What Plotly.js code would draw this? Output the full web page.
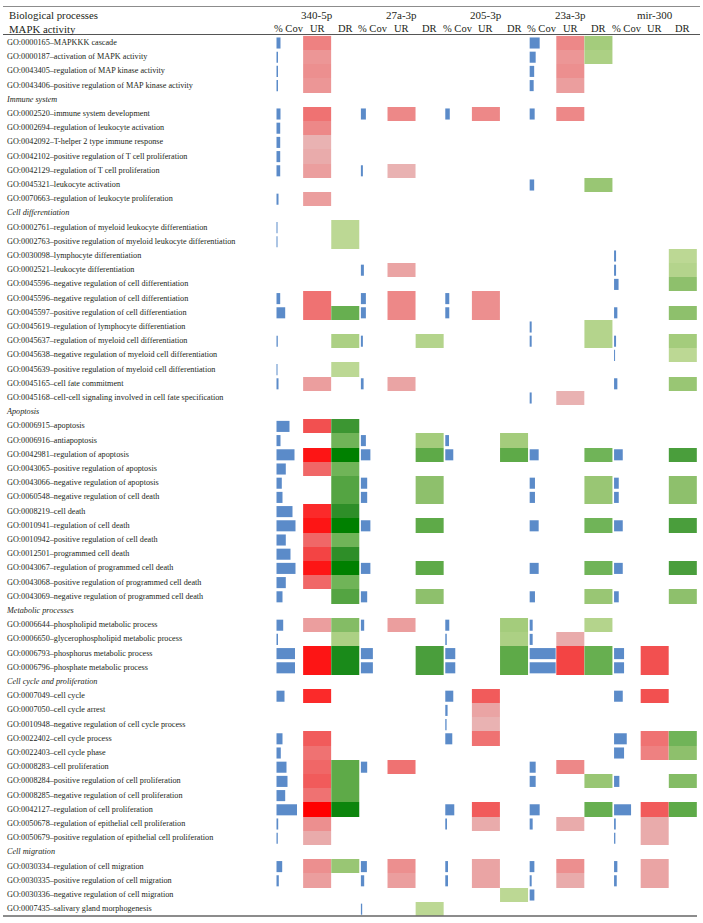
<!DOCTYPE html>
<html>
<head>
<meta charset="utf-8">
<script src="https://cdn.plot.ly/plotly-3.0.1.min.js"></script>
<style>html,body{margin:0;padding:0;background:#fff;}#chart{width:703px;height:923px;}</style>
</head>
<body>
<div id="chart"></div>
<script>
// ---------------- DATA ----------------
const mirnas = ["340-5p", "27a-3p", "205-3p", "23a-3p", "mir-300"];
const subColumns = ["% Cov", "UR", "DR"];
const titleLeft = "Biological processes";
const sectionNames = ["MAPK activity", "Immune system", "Cell differentiation", "Apoptosis",
  "Metabolic processes", "Cell cycle and proliferation", "Cell migration"];
const sectionSizes = [4, 7, 13, 13, 4, 11, 4];
const goTerms = [
  "GO:0000165–MAPKKK cascade",
  "GO:0000187–activation of MAPK activity",
  "GO:0043405–regulation of MAP kinase activity",
  "GO:0043406–positive regulation of MAP kinase activity",
  "GO:0002520–immune system development",
  "GO:0002694–regulation of leukocyte activation",
  "GO:0042092–T-helper 2 type immune response",
  "GO:0042102–positive regulation of T cell proliferation",
  "GO:0042129–regulation of T cell proliferation",
  "GO:0045321–leukocyte activation",
  "GO:0070663–regulation of leukocyte proliferation",
  "GO:0002761–regulation of myeloid leukocyte differentiation",
  "GO:0002763–positive regulation of myeloid leukocyte differentiation",
  "GO:0030098–lymphocyte differentiation",
  "GO:0002521–leukocyte differentiation",
  "GO:0045596–negative regulation of cell differentiation",
  "GO:0045596–negative regulation of cell differentiation",
  "GO:0045597–positive regulation of cell differentiation",
  "GO:0045619–regulation of lymphocyte differentiation",
  "GO:0045637–regulation of myeloid cell differentiation",
  "GO:0045638–negative regulation of myeloid cell differentiation",
  "GO:0045639–positive regulation of myeloid cell differentiation",
  "GO:0045165–cell fate commitment",
  "GO:0045168–cell-cell signaling involved in cell fate specification",
  "GO:0006915–apoptosis",
  "GO:0006916–antiapoptosis",
  "GO:0042981–regulation of apoptosis",
  "GO:0043065–positive regulation of apoptosis",
  "GO:0043066–negative regulation of apoptosis",
  "GO:0060548–negative regulation of cell death",
  "GO:0008219–cell death",
  "GO:0010941–regulation of cell death",
  "GO:0010942–positive regulation of cell death",
  "GO:0012501–programmed cell death",
  "GO:0043067–regulation of programmed cell death",
  "GO:0043068–positive regulation of programmed cell death",
  "GO:0043069–negative regulation of programmed cell death",
  "GO:0006644–phospholipid metabolic process",
  "GO:0006650–glycerophospholipid metabolic process",
  "GO:0006793–phosphorus metabolic process",
  "GO:0006796–phosphate metabolic process",
  "GO:0007049–cell cycle",
  "GO:0007050–cell cycle arrest",
  "GO:0010948–negative regulation of cell cycle process",
  "GO:0022402–cell cycle process",
  "GO:0022403–cell cycle phase",
  "GO:0008283–cell proliferation",
  "GO:0008284–positive regulation of cell proliferation",
  "GO:0008285–negative regulation of cell proliferation",
  "GO:0042127–regulation of cell proliferation",
  "GO:0050678–regulation of epithelial cell proliferation",
  "GO:0050679–positive regulation of epithelial cell proliferation",
  "GO:0030334–regulation of cell migration",
  "GO:0030335–positive regulation of cell migration",
  "GO:0030336–negative regulation of cell migration",
  "GO:0007435–salivary gland morphogenesis"
];
const _ = null;
// % coverage (bar length) and UR / DR enrichment strength (1 = weak ... 10 = strong)
const cov340 = [4,1.5,1.5,1.5, 4,3.7,3.7,3.7,3.7,_,2, 1,1,_,_,_,3.7,8.7,_,1.3,_,1,2,_,
  13,4,18,9.3,5.3,6,16,19,9.3,14,19,9.3,6, 6.7,1.5,18.5,18.5, 8,_,_,6,4.3,10,11,8.7,20.5,1.7,1.3, 5.7,2.3,_,_];
const ur340 = [5,3.5,4,3.5, 6,4.5,1.5,2,3,_,3, _,_,_,_,_,6,6,_,_,_,_,3,_,
  7.5,_,9.5,6.5,_,_,9,9.5,6.5,8,9.5,6.5,_, 3,_,9.5,9.5, 9,_,_,7,6,6.5,7,6,10,4,2, 4,3,_,_];
const dr340 = [_,_,_,_, _,_,_,_,_,_,_, 1.5,1.5,_,_,_,_,6,_,2.5,_,1.5,_,_,
  8,5.5,10,5.5,7,7,8.5,10,5.5,8.5,10,5.5,7, 4.5,2.5,9,9, _,_,_,_,_,6.5,6.5,6.5,9.5,_,_, 3.5,_,_,_];
const cov27 = [_,_,_,_, 5,_,_,_,2,_,_, _,_,_,3,_,5,5,_,2,_,_,2.7,_,
  _,5,9.5,_,6.3,6.3,_,9.5,_,_,9.5,_,6.3, 3.3,_,12,12, _,_,_,_,_,6.3,_,_,_,_,_, 6,3.3,_,1.3];
const ur27 = [_,_,_,_, 4.5,_,_,_,1.5,_,_, _,_,_,2.5,_,4.5,4.5,_,_,_,_,2.5,_,
  _,_,_,_,_,_,_,_,_,_,_,_,_, 3,_,_,_, _,_,_,_,_,6,_,_,_,_,_, 4,3,_,_];
const dr27 = [_,_,_,_, _,_,_,_,_,_,_, _,_,_,_,_,_,_,_,2,_,_,_,_,
  _,3,6.5,_,4,4,_,6.5,_,_,6.5,_,4, _,_,7.5,7.5, _,_,_,_,_,_,_,_,_,_,_, _,_,_,1.5];
const cov205 = [_,_,_,_, 4.5,_,_,_,_,_,_, _,_,_,_,_,4,4,_,_,_,_,_,_,
  _,3.7,8,_,_,_,_,_,_,_,_,_,_, 4,1.5,10,10, 8,2.3,1.3,7,_,_,_,_,9,1.7,_, 2.7,2.7,_,_];
const ur205 = [_,_,_,_, 4.5,_,_,_,_,_,_, _,_,_,_,_,4,4,_,_,_,_,_,_,
  _,_,_,_,_,_,_,_,_,_,_,_,_, _,_,_,_, 7,2.5,1.5,6,_,_,_,_,7,2,_, 2.5,2.5,_,_];
const dr205 = [_,_,_,_, _,_,_,_,_,_,_, _,_,_,_,_,_,_,_,_,_,_,_,_,
  _,3,6.5,_,_,_,_,_,_,_,_,_,_, 3,2.5,6.5,6.5, _,_,_,_,_,_,_,_,_,_,_, _,_,1.5,_];
const cov23 = [10,6,4.5,4, 5,_,_,_,_,4.5,_, _,_,_,_,_,_,_,2,2,_,_,_,2,
  _,_,9,_,5.3,5.3,_,9,_,_,9,_,5.3, 3,3,26,26, _,_,_,_,_,6,6,_,10,3,_, 4.7,2,4.7,_];
const ur23 = [4.5,3.5,4,3, 4.5,_,_,_,_,_,_, _,_,_,_,_,_,_,_,_,_,_,_,1.5,
  _,_,_,_,_,_,_,_,_,_,_,_,_, _,2,8,8, _,_,_,_,_,4.5,_,_,_,2,_, 4,2,_,_];
const dr23 = [3,2.5,_,_, _,_,_,_,_,3.5,_, _,_,_,_,_,_,_,2,2,_,_,_,_,
  _,_,5.5,_,3.5,3.5,_,5.5,_,_,5.5,_,3.5, 2,_,6,6, _,_,_,_,_,_,3.5,_,6,_,_, _,_,_,_];
const cov300 = [_,_,_,_, _,_,_,_,_,_,_, _,_,2,2,4.5,_,3.3,_,2,1,_,3.3,_,
  _,_,8.7,_,4.7,4.7,_,8.7,_,_,8.7,_,4.7, _,_,10,10, 8.7,_,_,12.7,10,_,5.3,_,17,1.7,1.3, 3.3,2.7,_,_];
const ur300 = [_,_,_,_, _,_,_,_,_,_,_, _,_,_,_,_,_,_,_,_,_,_,_,_,
  _,_,_,_,_,_,_,_,_,_,_,_,_, _,_,7.5,7.5, 7.5,_,_,6,5,_,_,_,7,2,2, 2.5,2.5,_,_];
const dr300 = [_,_,_,_, _,_,_,_,_,_,_, _,_,1.5,2,4,_,4,_,3,1.5,_,3.5,_,
  _,_,7.5,_,4,4,_,7.5,_,_,7.5,_,4, _,_,_,_, _,_,_,5.5,4,_,4.5,_,6.5,_,_, _,_,_,_];

// ---------------- LAYOUT / STYLE ----------------
const groups = [
  {cov: cov340, ur: ur340, dr: dr340},
  {cov: cov27, ur: ur27, dr: dr27},
  {cov: cov205, ur: ur205, dr: dr205},
  {cov: cov23, ur: ur23, dr: dr23},
  {cov: cov300, ur: ur300, dr: dr300}
];
const W = 703, H = 923;
const colLeft = 275, colW = 28.13;   // x-axis runs in pixel units
const rowTop = 43, rowPitch = 14.2;  // first row centre, row pitch (px)
const FONT = "Liberation Serif, Times New Roman, serif";
const TXT = "#231f20";
const LABEL_SIZE = 8.2, HEAD_SIZE = 10.8;
const urScale = [[0,"#e8baba"],[0.111,"#e9abab"],[0.222,"#eb9e9e"],[0.333,"#ec8f8f"],[0.444,"#ee8181"],
  [0.556,"#ef7272"],[0.667,"#f15b5b"],[0.778,"#f34444"],[0.889,"#fb2a2a"],[1,"#ff0000"]];
const drScale = [[0,"#c4dc9c"],[0.111,"#b4d48c"],[0.222,"#a4cc7c"],[0.333,"#8ec06c"],[0.5,"#70b458"],
  [0.611,"#5eaa48"],[0.722,"#4a9e3c"],[0.833,"#2e8e28"],[0.889,"#1a8a1a"],[1,"#008000"]];

// slots: MAPK header shares header row (slot -1)
const termSlot = [], headerSlot = [];
let slot = 0;
sectionSizes.forEach((n, i) => {
  if (i === 0) headerSlot.push(-1); else { headerSlot.push(slot); slot++; }
  for (let k = 0; k < n; k++) termSlot.push(slot++);
});
const nSlots = slot;
function toSlotColumn(arr) {
  const z = Array.from({length: nSlots}, () => [null]);
  arr.forEach((v, i) => { if (v !== null) z[termSlot[i]] = [v]; });
  return z;
}

const traces = [];
groups.forEach((g, gi) => {
  const left = colLeft + gi * 3 * colW;
  const ys = [], xs = [], bs = [];
  g.cov.forEach((v, i) => { if (v !== null) { ys.push(termSlot[i]); xs.push(v); bs.push(left + 1.5); } });
  traces.push({type: "bar", orientation: "h", y: ys, x: xs, base: bs, width: 0.78,
    marker: {color: "#5b8bc9", line: {width: 0}}, hoverinfo: "skip", showlegend: false});
  traces.push({type: "heatmap", z: toSlotColumn(g.ur), x0: left + 1.5 * colW, dx: colW, y0: 0, dy: 1,
    zmin: 1, zmax: 10, colorscale: urScale, showscale: false, hoverinfo: "skip"});
  traces.push({type: "heatmap", z: toSlotColumn(g.dr), x0: left + 2.5 * colW, dx: colW, y0: 0, dy: 1,
    zmin: 1, zmax: 10, colorscale: drScale, showscale: false, hoverinfo: "skip"});
});

// row labels
traces.push({type: "scatter", mode: "text", x: goTerms.map(() => 7), y: termSlot, text: goTerms,
  textposition: "middle right", textfont: {family: FONT, size: LABEL_SIZE, color: TXT}, hoverinfo: "skip", showlegend: false, cliponaxis: false});
traces.push({type: "scatter", mode: "text", x: sectionNames.slice(1).map(() => 7), y: headerSlot.slice(1),
  text: sectionNames.slice(1).map(s => "<i>" + s + "</i>"),
  textposition: "middle right", textfont: {family: FONT, size: LABEL_SIZE, color: TXT}, hoverinfo: "skip", showlegend: false, cliponaxis: false});

// header texts
const annotations = [];
annotations.push({x: 7, y: -2, xref: "x", yref: "y", text: titleLeft, showarrow: false, xanchor: "left", yanchor: "middle",
  font: {family: FONT, size: HEAD_SIZE, color: TXT}});
annotations.push({x: 7, y: headerSlot[0], xref: "x", yref: "y", text: sectionNames[0], showarrow: false, xanchor: "left", yanchor: "middle",
  font: {family: FONT, size: HEAD_SIZE, color: TXT}});
mirnas.forEach((m, gi) => {
  const left = colLeft + gi * 3 * colW;
  annotations.push({x: left + 1.5 * colW, y: -2, xref: "x", yref: "y", text: m, showarrow: false, xanchor: "center", yanchor: "middle",
    font: {family: FONT, size: 11, color: TXT}});
  subColumns.forEach((s, si) => {
    annotations.push({x: left + (si + 0.5) * colW, y: -1, xref: "x", yref: "y", text: s, showarrow: false, xanchor: "center", yanchor: "middle",
      font: {family: FONT, size: 10.5, color: TXT}});
  });
});

const yTop = -rowTop / rowPitch, yBot = (H - rowTop) / rowPitch;
const pxToSlot = p => (p - rowTop) / rowPitch;
const shapes = [
  {type: "line", xref: "x", yref: "y", x0: 3, x1: 700, y0: pxToSlot(6.5), y1: pxToSlot(6.5), line: {color: "#8c8c8c", width: 1}},
  {type: "line", xref: "x", yref: "y", x0: 3, x1: 700, y0: pxToSlot(34.5), y1: pxToSlot(34.5), line: {color: "#555555", width: 1.2}},
  {type: "line", xref: "x", yref: "y", x0: 3, x1: 697, y0: pxToSlot(916), y1: pxToSlot(916), line: {color: "#666666", width: 1.5}}
];

const layout = {
  width: W, height: H, margin: {l: 0, r: 0, t: 0, b: 0},
  paper_bgcolor: "#ffffff", plot_bgcolor: "#ffffff",
  showlegend: false, barmode: "overlay",
  xaxis: {range: [0, W], domain: [0, 1], visible: false, fixedrange: true},
  yaxis: {range: [yBot, yTop], domain: [0, 1], visible: false, fixedrange: true},
  annotations: annotations, shapes: shapes
};
Plotly.newPlot("chart", traces, layout, {displayModeBar: false, staticPlot: true});
</script>
</body>
</html>
